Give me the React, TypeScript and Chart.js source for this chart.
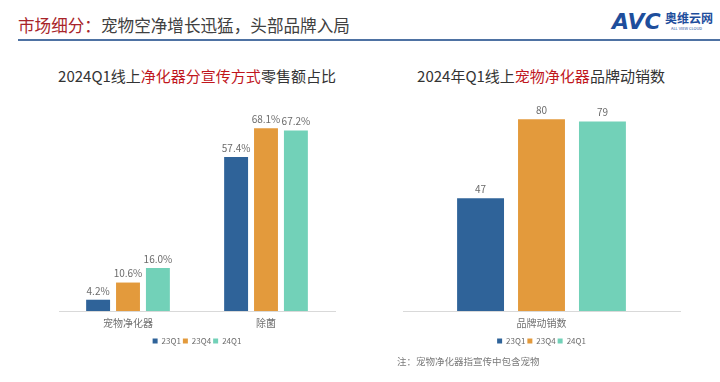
import React, { useEffect, useRef } from "react";
import { Chart, registerables } from "chart.js";

Chart.register(...registerables);

const seriesNames = ["23Q1", "23Q4", "24Q1"];
const seriesColors = ["#2F6399", "#E39A3C", "#72D1B8"];

const leftCategories = ["宠物净化器", "除菌"];
const left23Q1 = [4.2, 57.4];
const left23Q4 = [10.6, 68.1];
const left24Q1 = [16.0, 67.2];

const rightCategories = ["品牌动销数"];
const right23Q1 = [47];
const right23Q4 = [80];
const right24Q1 = [79];

const FONT = "'Noto Sans CJK SC', 'Noto Sans', sans-serif";

const valueLabelPlugin = (fmt: (v: number) => string) => ({
  id: "valueLabels",
  afterDatasetsDraw(chart: any) {
    const ctx = chart.ctx;
    ctx.save();
    ctx.font = `10px ${FONT}`;
    ctx.fillStyle = "#6b6b6b";
    ctx.textAlign = "center";
    ctx.textBaseline = "bottom";
    chart.data.datasets.forEach((ds: any, i: number) => {
      const meta = chart.getDatasetMeta(i);
      meta.data.forEach((bar: any, j: number) => {
        ctx.fillText(fmt(ds.data[j]), bar.x, bar.y - 4);
      });
    });
    ctx.restore();
  },
});

function BarChart(props: {
  labels: string[];
  data: number[][];
  max: number;
  catPct: number;
  barPct: number;
  fmt: (v: number) => string;
  padding: any;
}) {
  const ref = useRef<HTMLCanvasElement>(null);
  useEffect(() => {
    const chart = new Chart(ref.current!, {
      type: "bar",
      data: {
        labels: props.labels,
        datasets: props.data.map((d, i) => ({
          label: seriesNames[i],
          data: d,
          backgroundColor: seriesColors[i],
          categoryPercentage: props.catPct,
          barPercentage: props.barPct,
        })),
      },
      options: {
        animation: false,
        responsive: false,
        maintainAspectRatio: false,
        layout: { padding: props.padding },
        plugins: {
          legend: {
            position: "bottom",
            labels: {
              usePointStyle: true,
              pointStyle: "rect",
              boxWidth: 5,
              boxHeight: 5,
              padding: 2,
              color: "#6b6b6b",
              font: { family: FONT, size: 8 },
            },
          },
          tooltip: { enabled: false },
        },
        scales: {
          x: {
            grid: { display: false, drawTicks: false },
            border: { display: true, color: "#d9d9d9", width: 1 },
            ticks: { color: "#707070", font: { family: FONT, size: 10 }, padding: 6 },
          },
          y: {
            display: false,
            min: 0,
            max: props.max,
          },
        },
      },
      plugins: [valueLabelPlugin(props.fmt)],
    });
    return () => chart.destroy();
  }, []);
  return <canvas ref={ref} width={320} height={265} style={{ width: 320, height: 265, display: "block" }} />;
}

export default function App() {
  return (
    <div
      style={{
        position: "fixed",
        left: 0,
        top: 0,
        width: 720,
        height: 382,
        background: "#ffffff",
        overflow: "hidden",
        fontFamily: FONT,
      }}
    >
      <div style={{ position: "absolute", left: 18, top: 13, fontSize: 16.6, lineHeight: "24px", whiteSpace: "nowrap", color: "#404040" }}>
        <span style={{ color: "#A8252A" }}>市场细分：</span>宠物空净增长迅猛，头部品牌入局
      </div>
      <div style={{ position: "absolute", left: 18, top: 39, width: 702, height: 2, background: "#4E72A3" }} />
      <div style={{ position: "absolute", left: 612, top: 9, fontSize: 22, fontWeight: 900, fontStyle: "italic", color: "#1E4E9C", fontFamily: "'DejaVu Sans', sans-serif", letterSpacing: 0 }}>
        AVC
      </div>
      <div style={{ position: "absolute", left: 665, top: 11, fontSize: 12, fontWeight: 700, color: "#1E4E9C", whiteSpace: "nowrap", lineHeight: "14px" }}>
        奥维云网
      </div>
      <div style={{ position: "absolute", left: 671, top: 26, fontSize: 4, color: "#1E4E9C", whiteSpace: "nowrap", lineHeight: "5px" }}>
        ALL VIEW CLOUD
      </div>

      <div style={{ position: "absolute", left: 47, top: 66, width: 300, textAlign: "center", fontSize: 15, color: "#333", whiteSpace: "nowrap", lineHeight: "20px" }}>
        2024Q1线上<span style={{ color: "#C0161D" }}>净化器分宣传方式</span>零售额占比
      </div>
      <div style={{ position: "absolute", left: 391, top: 66, width: 300, textAlign: "center", fontSize: 15, color: "#333", whiteSpace: "nowrap", lineHeight: "20px" }}>
        2024年Q1线上<span style={{ color: "#C0161D" }}>宠物净化器</span>品牌动销数
      </div>

      <div style={{ position: "absolute", left: 40, top: 90 }}>
        <BarChart
          labels={leftCategories}
          data={[left23Q1, left23Q4, left24Q1]}
          max={78.6}
          catPct={0.65}
          barPct={0.8}
          fmt={(v) => v.toFixed(1) + "%"}
          padding={{ left: 19, right: 25, top: 10, bottom: 0 }}
        />
      </div>
      <div style={{ position: "absolute", left: 384, top: 90 }}>
        <BarChart
          labels={rightCategories}
          data={[right23Q1, right23Q4, right24Q1]}
          max={88}
          catPct={0.66}
          barPct={0.77}
          fmt={(v) => String(v)}
          padding={{ left: 19, right: 24, top: 10, bottom: 0 }}
        />
      </div>

      <div style={{ position: "absolute", left: 397, top: 354, fontSize: 9.5, color: "#7a7a7a", whiteSpace: "nowrap", lineHeight: "14px" }}>
        注：宠物净化器指宣传中包含宠物
      </div>
    </div>
  );
}
